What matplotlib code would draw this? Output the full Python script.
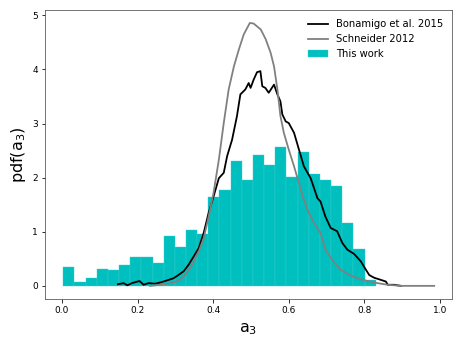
import numpy as np
import matplotlib
matplotlib.use("Agg")
import matplotlib.pyplot as plt

# histogram of this work (28 bins)
bin_lo = 0.0035
bin_hi = 0.830
hist_heights = [0.35, 0.07, 0.15, 0.32, 0.29, 0.39, 0.53, 0.53, 0.43, 0.93,
                0.71, 1.04, 0.96, 1.64, 1.78, 2.31, 1.96, 2.42, 2.24, 2.56,
                2.02, 2.48, 2.06, 1.96, 1.85, 1.17, 0.69, 0.10]

# Bonamigo et al. 2015
bon_x = [0.148, 0.163, 0.173, 0.185, 0.205, 0.216, 0.229, 0.247, 0.264, 0.282,
         0.295, 0.308, 0.322, 0.335, 0.348, 0.362, 0.375, 0.388, 0.401, 0.415,
         0.428, 0.437, 0.450, 0.463, 0.472, 0.485, 0.494, 0.499, 0.507, 0.516,
         0.525, 0.530, 0.538, 0.547, 0.561, 0.570, 0.578, 0.583, 0.592, 0.600,
         0.614, 0.627, 0.640, 0.658, 0.676, 0.684, 0.697, 0.711, 0.728, 0.742,
         0.755, 0.773, 0.791, 0.804, 0.813, 0.826, 0.844, 0.857, 0.862, 0.879,
         0.897]
bon_y = [0.03, 0.05, 0.01, 0.05, 0.09, 0.02, 0.05, 0.04, 0.07, 0.11,
         0.14, 0.20, 0.27, 0.39, 0.54, 0.70, 0.98, 1.35, 1.65, 1.99,
         2.09, 2.40, 2.70, 3.14, 3.54, 3.63, 3.75, 3.66, 3.81, 3.95,
         3.97, 3.69, 3.66, 3.57, 3.72, 3.54, 3.41, 3.17, 3.04, 3.01,
         2.83, 2.52, 2.21, 1.99, 1.62, 1.56, 1.28, 1.07, 1.01, 0.79,
         0.67, 0.59, 0.45, 0.30, 0.20, 0.15, 0.11, 0.08, 0.02, 0.02,
         0.0]

# Schneider 2012
sch_x = [0.233, 0.260, 0.287, 0.308, 0.326, 0.344, 0.362, 0.375, 0.388, 0.401,
         0.415, 0.428, 0.441, 0.455, 0.468, 0.481, 0.497, 0.507, 0.526, 0.539,
         0.552, 0.561, 0.570, 0.578, 0.587, 0.600, 0.614, 0.627, 0.640, 0.653,
         0.667, 0.684, 0.697, 0.715, 0.737, 0.764, 0.791, 0.826, 0.862, 0.897,
         0.985]
sch_y = [0.0, 0.02, 0.05, 0.09, 0.20, 0.39, 0.64, 0.88, 1.28, 1.72,
         2.33, 3.01, 3.63, 4.06, 4.37, 4.65, 4.86, 4.85, 4.74, 4.56,
         4.31, 4.06, 3.63, 3.14, 2.83, 2.52, 2.21, 1.90, 1.59, 1.35,
         1.16, 0.98, 0.67, 0.48, 0.30, 0.19, 0.12, 0.06, 0.02, 0.0,
         0.0]

edges = np.linspace(bin_lo, bin_hi, len(hist_heights) + 1)

fig = plt.figure(figsize=(463/72, 347/72), dpi=72)
ax = fig.add_axes([45/463, 1 - 299/347, 407/463, 289/347])

ax.plot(bon_x, bon_y, color='k', lw=1.8, label='Bonamigo et al. 2015', zorder=3)
ax.plot(sch_x, sch_y, color='grey', lw=1.8, label='Schneider 2012', zorder=3)
ax.bar(edges[:-1], hist_heights, width=np.diff(edges), align='edge',
       color='c', edgecolor='#3fcccc', linewidth=0.4, label='This work')

ax.set_ylim(-0.243, 5.10)
ax.set_xlim(-0.045, 1.032)
ax.set_xlabel('a$_3$', fontsize=16, labelpad=6)
ax.set_ylabel('pdf(a$_3$)', fontsize=16)
ax.tick_params(labelsize=9)
ax.legend(loc='upper right', frameon=False, fontsize=10)
for sp in ax.spines.values():
    sp.set_color('#555555')

fig.savefig('out.png', dpi=72)
